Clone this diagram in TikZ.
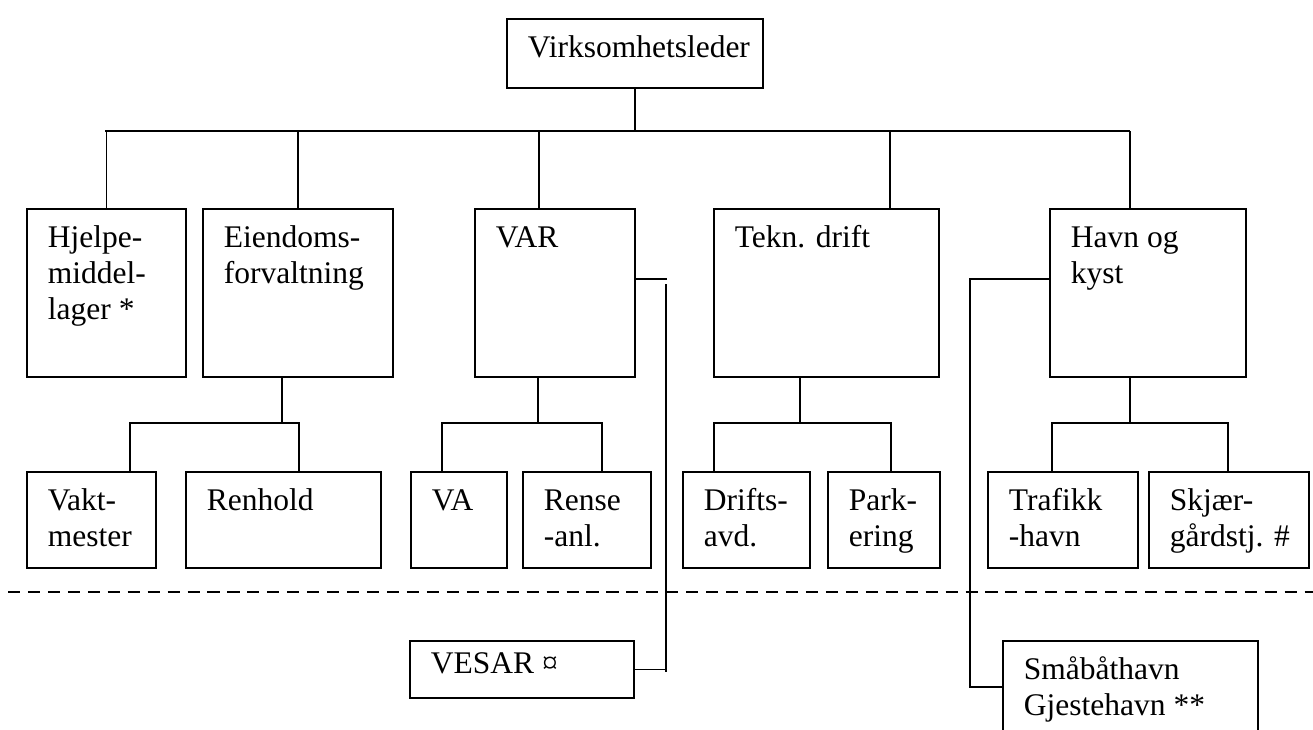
\documentclass[tikz,border=0pt]{standalone}
\usepackage{fontspec}
\setmainfont{Liberation Serif}
\usetikzlibrary{positioning}
\newcommand{\px}{0.381pt}

\begin{document}
\begin{tikzpicture}[x=\px,y=-\px,line width=0.7pt,
  box/.style={draw,anchor=north west,inner sep=0pt},
  txt/.style={anchor=north west,inner sep=0pt,align=left,font=\fontsize{12pt}{13.8pt}\selectfont},
  cut/.style={dash pattern=on 4.6pt off 3pt}]
\useasboundingbox (0,0) rectangle (1313,729);
% boxes
\node[box,minimum width=256*\px,minimum height=69*\px](virk)at(506,18){};
\node[box,minimum width=159*\px,minimum height=168*\px](hjelpe)at(26,208){};
\node[box,minimum width=190*\px,minimum height=168*\px](eiend)at(202,208){};
\node[box,minimum width=160*\px,minimum height=168*\px](var)at(474,208){};
\node[box,minimum width=225*\px,minimum height=168*\px](tekn)at(713,208){};
\node[box,minimum width=196*\px,minimum height=168*\px](havn)at(1049,208){};
\node[box,minimum width=129*\px,minimum height=96*\px](vakt)at(26,471){};
\node[box,minimum width=195*\px,minimum height=96*\px](renhold)at(185,471){};
\node[box,minimum width=96*\px,minimum height=96*\px](va)at(410,471){};
\node[box,minimum width=128*\px,minimum height=96*\px](rense)at(522,471){};
\node[box,minimum width=127*\px,minimum height=96*\px](drifts)at(682,471){};
\node[box,minimum width=112*\px,minimum height=96*\px](park)at(827,471){};
\node[box,minimum width=150*\px,minimum height=96*\px](trafikk)at(987,471){};
\node[box,minimum width=160*\px,minimum height=96*\px](skjaer)at(1148,471){};
\node[box,minimum width=224*\px,minimum height=57*\px](vesar)at(409,640){};
\node[box,minimum width=255*\px,minimum height=120*\px](smaa)at(1002,640){};
% texts
\node[txt](tVirk)at([shift={(21,13)}]virk.north west){\strut Virksomhetsleder};
\node[txt](tHjelpe)at([shift={(21,13)}]hjelpe.north west){\strut Hjelpe-\\middel-\\lager *};
\node[txt](tEiend)at([shift={(21,13)}]eiend.north west){\strut Eiendoms-\\forvaltning};
\node[txt](tVar)at([shift={(21,13)}]var.north west){\strut VAR};
\node[txt](tTekn)at([shift={(21,13)}]tekn.north west){\strut Tekn. drift};
\node[txt](tHavn)at([shift={(21,13)}]havn.north west){\strut Havn og\\kyst};
\node[txt](tVakt)at([shift={(21,13)}]vakt.north west){\strut Vakt-\\mester};
\node[txt](tRenhold)at([shift={(21,13)}]renhold.north west){\strut Renhold};
\node[txt](tVa)at([shift={(21,13)}]va.north west){\strut VA};
\node[txt](tRense)at([shift={(21,13)}]rense.north west){\strut Rense\\-anl.};
\node[txt](tDrifts)at([shift={(21,13)}]drifts.north west){\strut Drifts-\\avd.};
\node[txt](tPark)at([shift={(21,13)}]park.north west){\strut Park-\\ering};
\node[txt](tTrafikk)at([shift={(21,13)}]trafikk.north west){\strut Trafikk\\-havn};
\node[txt](tSkjaer)at([shift={(21,13)}]skjaer.north west){\strut Skjær-\\gårdstj. \#};
\node[txt](tVesar)at([shift={(21,7)}]vesar.north west){\strut VESAR ¤};
\node[txt](tSmaa)at([shift={(21,13)}]smaa.north west){\strut Småbåthavn\\Gjestehavn **};
% top level
\coordinate(busL)at(105,131);
\coordinate(busR)at(1130,131);
\coordinate(dVar)at(539,131);
\coordinate(dTekn)at(890,131);
\draw(virk.south)--(virk.south|-busL);
\draw(busL)--(busR);
\draw(hjelpe.north|-busL)--(hjelpe.north);
\draw(eiend.north|-busL)--(eiend.north);
\draw(dVar)--(dVar|-var.north);
\draw(dTekn)--(dTekn|-tekn.north);
\draw(busR)--(busR|-havn.north);
% second level
\coordinate(eM)at(282,423);\coordinate(eL)at(130,423);\coordinate(eR)at(299,423);
\draw(eM|-eiend.south)--(eM);
\draw(eL|-vakt.north)--(eL)--(eR)--(eR|-renhold.north);
\coordinate(vM)at(538,423);\coordinate(vL)at(442,423);\coordinate(vR)at(602,423);
\draw(vM|-var.south)--(vM);
\draw(vL|-va.north)--(vL)--(vR)--(vR|-rense.north);
\coordinate(tM)at(800,423);\coordinate(tL)at(714,423);\coordinate(tR)at(891,423);
\draw(tM|-tekn.south)--(tM);
\draw(tL|-drifts.north)--(tL)--(tR)--(tR|-park.north);
\coordinate(hM)at(1130,423);\coordinate(hL)at(1052,423);\coordinate(hR)at(1228,423);
\draw(hM|-havn.south)--(hM);
\draw(hL|-trafikk.north)--(hL)--(hR)--(hR|-skjaer.north);
% below the line
\coordinate(dL)at(8,592);\coordinate(dR)at(1313,592);
\draw[cut](dL)--(dR);
\coordinate(vS)at(667,279);\coordinate(vT)at(666,284);\coordinate(vB)at(666,672);
\draw(vS-|var.east)--(vS);
\draw(vT)--(vB);
\draw(vesar.east)--(vesar.east-|vB);
\coordinate(hS)at(970,279);\coordinate(hB)at(970,687);
\draw(hS-|havn.west)--(hS)--(hB)--(hB-|smaa.west);
\end{tikzpicture}
\end{document}
